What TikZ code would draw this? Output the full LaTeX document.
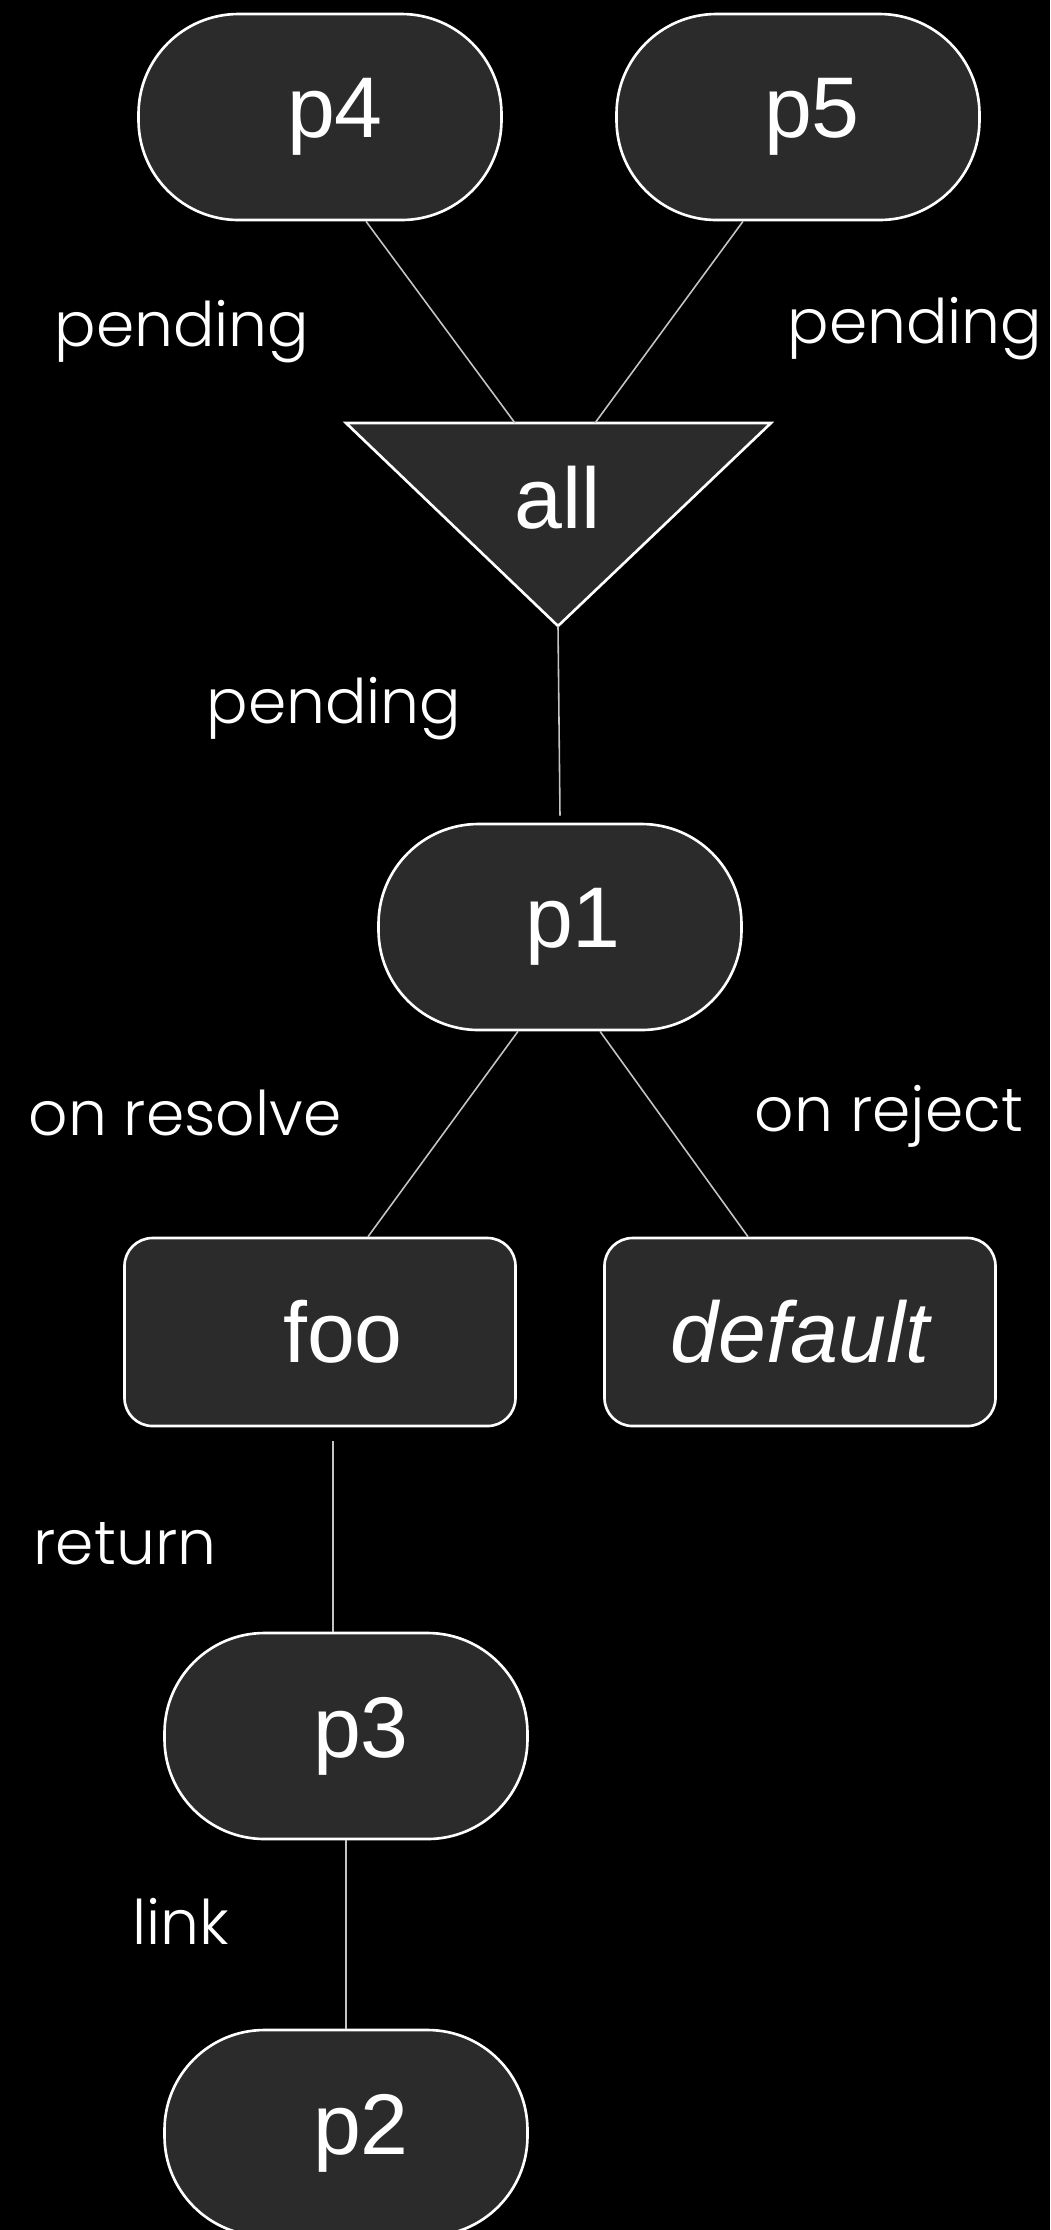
\documentclass[tikz,border=0pt]{standalone}
\usepackage{fontspec}
\usepackage{tikz}
\newfontfamily\labelfont{Poppins}[UprightFont={* Light}]
\newfontfamily\nodefont{Liberation Sans}
\definecolor{nodegray}{HTML}{2B2B2B}
\definecolor{wiregray}{HTML}{C4C4C4}
\newcommand{\nudge}[1]{\hspace*{#1}}

\begin{document}
\begin{tikzpicture}[
        pill/.style={draw=white, fill=nodegray, line width=0.75pt, rounded corners=1cm, minimum width=3.63cm, minimum height=2.06cm, text=white, font=\nodefont\fontsize{24.5}{24.5}\selectfont},
        box/.style={draw=white, fill=nodegray, line width=0.75pt, rounded corners=0.28cm, minimum width=3.91cm, minimum height=1.88cm, text=white, font=\nodefont\fontsize{24.5}{24.5}\selectfont},
        caption/.style={text=white, font=\labelfont\fontsize{17.5}{17.5}\selectfont},
        wire/.style={draw=wiregray, line width=0.45pt}
    ]
        \useasboundingbox (0,0) rectangle (10.5,-22.3);
        \fill[black] (0,0) rectangle (10.5,-22.3);

        % Nodes
        \node[pill] (p4) at (3.20,-1.17) {\nudge{0.3cm}p4};
        \node[pill] (p5) at (7.98,-1.17) {\nudge{0.28cm}p5};
        \coordinate (alltl) at (3.46,-4.23);
        \coordinate (alltr) at (7.71,-4.23);
        \coordinate (allapex) at (5.58,-6.26);
        \fill[nodegray, draw=white, line width=0.75pt, line join=miter] (alltl) -- (alltr) -- (allapex) -- cycle;
        \node[text=white, font=\nodefont\fontsize{24.5}{24.5}\selectfont] (all) at (5.58,-4.98) {all};
        \coordinate (allinl) at (5.15,-4.23);
        \coordinate (allinr) at (5.95,-4.23);
        \node[pill] (p1) at (5.60,-9.27) {\nudge{0.26cm}p1};
        \node[box] (foo) at (3.20,-13.32) {\nudge{0.46cm}foo};
        \node[box] (default) at (8.00,-13.32) {\itshape default};
        \node[pill] (p3) at (3.46,-17.36) {\nudge{0.3cm}p3};
        \node[pill] (p2) at (3.46,-21.33) {\nudge{0.3cm}p2};

        % Labels
        \node[caption] (pendl) at (1.82,-3.32) {pending};
        \node[caption] (pendr) at (9.15,-3.29) {pending};
        \node[caption] (pendm) at (3.34,-7.09) {pending};
        \node[caption] (resolve) at (1.85,-11.13) {on resolve};
        \node[caption] (reject) at (8.89,-11.16) {on reject};
        \node[caption] (ret) at (1.25,-15.44) {return};
        \node[caption] (lnk) at (1.81,-19.21) {link};

        % Arrows
        \path[wire] ([xshift=0.46cm]p4.south) -- (allinl);
        \path[wire] ([xshift=-0.55cm]p5.south) -- (allinr);
        \path[wire] (allapex) -- ([yshift=0.07cm]p1.north);
        \path[wire] ([xshift=-0.42cm]p1.south) -- ([xshift=0.48cm]foo.north);
        \path[wire] ([xshift=0.40cm]p1.south) -- ([xshift=-0.52cm]default.north);
        \path[wire] ([shift={(0.13,-0.14)}]foo.south) -- ([xshift=-0.13cm]p3.north);
        \path[wire] (p3.south) -- (p2.north);
    \end{tikzpicture}
\end{document}
